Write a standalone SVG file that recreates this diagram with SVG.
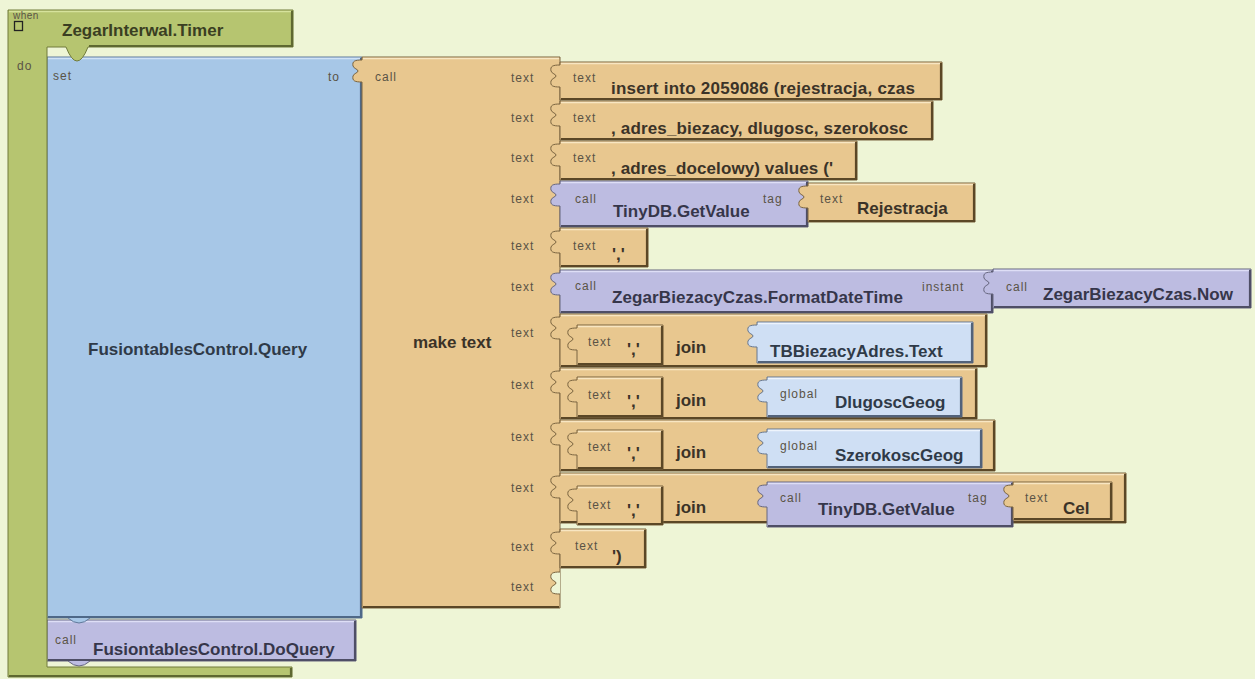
<svg xmlns="http://www.w3.org/2000/svg" width="1255" height="679" viewBox="0 0 1255 679">
<defs>
<style>
.tan{fill:#E8C78F;stroke:#7a6440;stroke-width:1;stroke-linejoin:round}
.pur{fill:#BDBCE1;stroke:#66667e;stroke-width:1;stroke-linejoin:round}
.lbl{fill:#CFDFF4;stroke:#66768e;stroke-width:1;stroke-linejoin:round}
.blu{fill:#A7C7E7;stroke:#60789a;stroke-width:1;stroke-linejoin:round}
.grn{fill:#B6C570;stroke:#707a3a;stroke-width:1;stroke-linejoin:round}
.hole{fill:#EEF5D6;stroke:#7a6440;stroke-width:1}
.st{fill:none;stroke:#5b4726;stroke-width:2.2}
.sp{fill:none;stroke:#4e4e66;stroke-width:2.2}
.sl{fill:none;stroke:#52627a;stroke-width:2.2}
.sb{fill:none;stroke:#4e6888;stroke-width:2.2}
.sg{fill:none;stroke:#5e6830;stroke-width:2.2}
.ht{fill:none;stroke:#f8e6c2;stroke-width:1.5}
.hp{fill:none;stroke:#dedef6;stroke-width:1.5}
.hl{fill:none;stroke:#eef4fc;stroke-width:1.5}
.hb{fill:none;stroke:#cfe2f6;stroke-width:1.5}
.hg{fill:none;stroke:#d6e29c;stroke-width:1.5}
.s{font-family:"Liberation Sans",Arial,sans-serif;font-size:12px;letter-spacing:1px;fill:#5a5346}
.b{font-family:"Liberation Sans",Arial,sans-serif;font-size:17px;font-weight:bold;fill:#3b3328}
.bp{fill:#36364a}
.bb{fill:#2f3a48}
.bg{fill:#3a3e22}
</style>
</defs>

<rect x="0" y="0" width="1255" height="679" fill="#EEF5D6"/>

<!-- statement: call FusiontablesControl.DoQuery -->
<g id="doquery">
<path class="pur" d="M47,620 H356 V661 H90 Q79,671 68,661 H47 Z"/>
<path class="sp" d="M48,660 H355 V621"/>
<path class="hp" d="M48,621.5 H354"/>
<text class="s" x="55" y="644">call</text>
<text class="b bp" x="93" y="655">FusiontablesControl.DoQuery</text>
</g>

<!-- statement: set FusiontablesControl.Query -->
<g id="set-query">
<path class="blu" d="M47,57 H362 V618 H90 Q79,628 68,618 H47 Z"/>
<path class="sb" d="M48,617 H361 V58"/>
<path class="hb" d="M48,58.5 H360"/>
<text class="s" x="53" y="80">set</text>
<text class="s" x="328" y="81">to</text>
<text class="b bb" x="88" y="355">FusiontablesControl.Query</text>
</g>

<!-- event: when ZegarInterwal.Timer -->
<g id="when-timer">
<path class="grn" d="M8,10 H293 V47 H88 Q77,75 66,47 H47 V667 H292 V677 H8 Z"/>
<path class="sg" d="M292,11 V46 H89 M9,676 H291 V668"/>
<path class="hg" d="M9,11.5 H291"/>
<text class="s" x="13" y="19" style="font-size:10px;letter-spacing:0.5px">when</text>
<rect x="14.5" y="21.5" width="8" height="9" fill="none" stroke="#222" stroke-width="1.3"/>
<text class="b bg" x="62" y="36">ZegarInterwal.Timer</text>
<text class="s" x="17" y="70">do</text>
</g>

<!-- call make text -->
<g id="make-text">
<path class="tan" d="M362,57 H560 V608 H362 V82 c-7,0 -10,-1 -9,-6 c1,-3 5,-3 5,-5 c0,-2 -4,-2 -5,-5 c-1,-5 2,-6 9,-6 Z"/>
<path class="st" d="M363,607 H559"/>
<path class="ht" d="M363,58.5 H559"/>
<path class="hole" d="M560,594 c-7,0 -10,-1 -9,-6 c1,-3 5,-3 5,-5 c0,-2 -4,-2 -5,-5 c-1,-5 2,-6 9,-6"/>
<text class="s" x="375" y="81">call</text>
<text class="b" x="413" y="348">make text</text>
<text class="s" x="511" y="82">text</text>
<text class="s" x="511" y="122">text</text>
<text class="s" x="511" y="162">text</text>
<text class="s" x="511" y="203">text</text>
<text class="s" x="511" y="250">text</text>
<text class="s" x="511" y="291">text</text>
<text class="s" x="511" y="337">text</text>
<text class="s" x="511" y="389">text</text>
<text class="s" x="511" y="441">text</text>
<text class="s" x="511" y="492">text</text>
<text class="s" x="511" y="551">text</text>
<text class="s" x="511" y="591">text</text>
</g>

<g id="text-insert">
<path class="tan" d="M560,62 H942 V100 H560 V87 c-7,0 -10,-1 -9,-6 c1,-3 5,-3 5,-5 c0,-2 -4,-2 -5,-5 c-1,-5 2,-6 9,-6 Z"/>
<path class="st" d="M561,99 H941 V63"/>
<path class="ht" d="M561,63.5 H940"/>
<text class="s" x="573" y="82">text</text>
<text class="b" x="611" y="94" textLength="304" lengthAdjust="spacing">insert into 2059086 (rejestracja, czas</text>
</g>

<g id="text-columns">
<path class="tan" d="M560,101 H933 V140 H560 V126 c-7,0 -10,-1 -9,-6 c1,-3 5,-3 5,-5 c0,-2 -4,-2 -5,-5 c-1,-5 2,-6 9,-6 Z"/>
<path class="st" d="M561,139 H932 V102"/>
<path class="ht" d="M561,102.5 H931"/>
<text class="s" x="573" y="122">text</text>
<text class="b" x="611" y="134" textLength="297" lengthAdjust="spacing">, adres_biezacy, dlugosc, szerokosc</text>
</g>

<g id="text-values">
<path class="tan" d="M560,141 H857 V180 H560 V166 c-7,0 -10,-1 -9,-6 c1,-3 5,-3 5,-5 c0,-2 -4,-2 -5,-5 c-1,-5 2,-6 9,-6 Z"/>
<path class="st" d="M561,179 H856 V142"/>
<path class="ht" d="M561,142.5 H855"/>
<text class="s" x="573" y="162">text</text>
<text class="b" x="611" y="174" textLength="222" lengthAdjust="spacing">, adres_docelowy) values ('</text>
</g>

<g id="tinydb-rejestracja">
<path class="pur" d="M560,181 H808 V227 H560 V206 c-7,0 -10,-1 -9,-6 c1,-3 5,-3 5,-5 c0,-2 -4,-2 -5,-5 c-1,-5 2,-6 9,-6 Z"/>
<path class="sp" d="M561,226 H807 V182"/>
<path class="hp" d="M561,182.5 H806"/>
<text class="s" x="575" y="203">call</text>
<text class="b bp" x="613" y="217">TinyDB.GetValue</text>
<text class="s" x="763" y="203">tag</text>
</g>

<g id="text-rejestracja">
<path class="tan" d="M808,183 H975 V222 H808 V208 c-7,0 -10,-1 -9,-6 c1,-3 5,-3 5,-5 c0,-2 -4,-2 -5,-5 c-1,-5 2,-6 9,-6 Z"/>
<path class="st" d="M809,221 H974 V184"/>
<path class="ht" d="M809,184.5 H973"/>
<text class="s" x="820" y="203">text</text>
<text class="b" x="857" y="214">Rejestracja</text>
</g>

<g id="text-sep1">
<path class="tan" d="M560,228 H648 V267 H560 V253 c-7,0 -10,-1 -9,-6 c1,-3 5,-3 5,-5 c0,-2 -4,-2 -5,-5 c-1,-5 2,-6 9,-6 Z"/>
<path class="st" d="M561,266 H647 V229"/>
<path class="ht" d="M561,229.5 H646"/>
<text class="s" x="573" y="250">text</text>
<text class="b" x="612" y="260">','</text>
</g>

<g id="format-datetime">
<path class="pur" d="M560,270 H993 V313 H560 V295 c-7,0 -10,-1 -9,-6 c1,-3 5,-3 5,-5 c0,-2 -4,-2 -5,-5 c-1,-5 2,-6 9,-6 Z"/>
<path class="sp" d="M561,312 H992 V271"/>
<path class="hp" d="M561,271.5 H991"/>
<text class="s" x="575" y="290">call</text>
<text class="b bp" x="612" y="303" textLength="291" lengthAdjust="spacing">ZegarBiezacyCzas.FormatDateTime</text>
<text class="s" x="922" y="291">instant</text>
</g>

<g id="clock-now">
<path class="pur" d="M993,269 H1251 V308 H993 V294 c-7,0 -10,-1 -9,-6 c1,-3 5,-3 5,-5 c0,-2 -4,-2 -5,-5 c-1,-5 2,-6 9,-6 Z"/>
<path class="sp" d="M994,307 H1250 V270"/>
<path class="hp" d="M994,270.5 H1249"/>
<text class="s" x="1006" y="291">call</text>
<text class="b bp" x="1043" y="300">ZegarBiezacyCzas.Now</text>
</g>

<!-- join ',' + TBBiezacyAdres.Text -->
<g id="join-adres">
<path class="tan" d="M560,314 H987 V367 H560 V339 c-7,0 -10,-1 -9,-6 c1,-3 5,-3 5,-5 c0,-2 -4,-2 -5,-5 c-1,-5 2,-6 9,-6 Z"/>
<path class="st" d="M561,366 H986 V315"/>
<path class="ht" d="M561,315.5 H985"/>
<path class="tan" d="M577,325 H663 V365 H577 V350 c-7,0 -10,-1 -9,-6 c1,-3 5,-3 5,-5 c0,-2 -4,-2 -5,-5 c-1,-5 2,-6 9,-6 Z"/>
<path class="st" d="M578,364 H662 V326"/>
<path class="ht" d="M578,326.5 H661"/>
<text class="s" x="588" y="346">text</text>
<text class="b" x="627" y="355">','</text>
<text class="b" x="676" y="353">join</text>
<path class="lbl" d="M757,322 H973 V363 H757 V347 c-7,0 -10,-1 -9,-6 c1,-3 5,-3 5,-5 c0,-2 -4,-2 -5,-5 c-1,-5 2,-6 9,-6 Z"/>
<path class="sl" d="M758,362 H972 V323"/>
<path class="hl" d="M758,323.5 H971"/>
<text class="b bb" x="770" y="357">TBBiezacyAdres.Text</text>
</g>

<!-- join ',' + global DlugoscGeog -->
<g id="join-dlugosc">
<path class="tan" d="M560,368 H977 V419 H560 V393 c-7,0 -10,-1 -9,-6 c1,-3 5,-3 5,-5 c0,-2 -4,-2 -5,-5 c-1,-5 2,-6 9,-6 Z"/>
<path class="st" d="M561,418 H976 V369"/>
<path class="ht" d="M561,369.5 H975"/>
<path class="tan" d="M577,377 H663 V417 H577 V402 c-7,0 -10,-1 -9,-6 c1,-3 5,-3 5,-5 c0,-2 -4,-2 -5,-5 c-1,-5 2,-6 9,-6 Z"/>
<path class="st" d="M578,416 H662 V378"/>
<path class="ht" d="M578,378.5 H661"/>
<text class="s" x="588" y="399">text</text>
<text class="b" x="627" y="407">','</text>
<text class="b" x="676" y="406">join</text>
<path class="lbl" d="M767,377 H962 V417 H767 V402 c-7,0 -10,-1 -9,-6 c1,-3 5,-3 5,-5 c0,-2 -4,-2 -5,-5 c-1,-5 2,-6 9,-6 Z"/>
<path class="sl" d="M768,416 H961 V378"/>
<path class="hl" d="M768,378.5 H960"/>
<text class="s" x="780" y="398">global</text>
<text class="b bb" x="835" y="408">DlugoscGeog</text>
</g>

<!-- join ',' + global SzerokoscGeog -->
<g id="join-szerokosc">
<path class="tan" d="M560,420 H995 V471 H560 V445 c-7,0 -10,-1 -9,-6 c1,-3 5,-3 5,-5 c0,-2 -4,-2 -5,-5 c-1,-5 2,-6 9,-6 Z"/>
<path class="st" d="M561,470 H994 V421"/>
<path class="ht" d="M561,421.5 H993"/>
<path class="tan" d="M577,430 H663 V469 H577 V455 c-7,0 -10,-1 -9,-6 c1,-3 5,-3 5,-5 c0,-2 -4,-2 -5,-5 c-1,-5 2,-6 9,-6 Z"/>
<path class="st" d="M578,468 H662 V431"/>
<path class="ht" d="M578,431.5 H661"/>
<text class="s" x="588" y="451">text</text>
<text class="b" x="627" y="459">','</text>
<text class="b" x="676" y="458">join</text>
<path class="lbl" d="M767,429 H982 V468 H767 V454 c-7,0 -10,-1 -9,-6 c1,-3 5,-3 5,-5 c0,-2 -4,-2 -5,-5 c-1,-5 2,-6 9,-6 Z"/>
<path class="sl" d="M768,467 H981 V430"/>
<path class="hl" d="M768,430.5 H980"/>
<text class="s" x="780" y="450">global</text>
<text class="b bb" x="835" y="461">SzerokoscGeog</text>
</g>

<!-- join ',' + TinyDB.GetValue(Cel) -->
<g id="join-cel">
<path class="tan" d="M560,473 H1126 V523 H560 V498 c-7,0 -10,-1 -9,-6 c1,-3 5,-3 5,-5 c0,-2 -4,-2 -5,-5 c-1,-5 2,-6 9,-6 Z"/>
<path class="st" d="M561,522 H1125 V474"/>
<path class="ht" d="M561,474.5 H1124"/>
<path class="tan" d="M577,486 H663 V525 H577 V511 c-7,0 -10,-1 -9,-6 c1,-3 5,-3 5,-5 c0,-2 -4,-2 -5,-5 c-1,-5 2,-6 9,-6 Z"/>
<path class="st" d="M578,524 H662 V487"/>
<path class="ht" d="M578,487.5 H661"/>
<text class="s" x="588" y="509">text</text>
<text class="b" x="627" y="516">','</text>
<text class="b" x="676" y="513">join</text>
<path class="pur" d="M767,482 H1013 V527 H767 V507 c-7,0 -10,-1 -9,-6 c1,-3 5,-3 5,-5 c0,-2 -4,-2 -5,-5 c-1,-5 2,-6 9,-6 Z"/>
<path class="sp" d="M768,526 H1012 V483"/>
<path class="hp" d="M768,483.5 H1011"/>
<text class="s" x="780" y="502">call</text>
<text class="b bp" x="818" y="515">TinyDB.GetValue</text>
<text class="s" x="968" y="502">tag</text>
<path class="tan" d="M1013,482 H1112 V520 H1013 V507 c-7,0 -10,-1 -9,-6 c1,-3 5,-3 5,-5 c0,-2 -4,-2 -5,-5 c-1,-5 2,-6 9,-6 Z"/>
<path class="st" d="M1014,519 H1111 V483"/>
<path class="ht" d="M1014,483.5 H1110"/>
<text class="s" x="1025" y="502">text</text>
<text class="b" x="1063" y="514">Cel</text>
</g>

<g id="text-close">
<path class="tan" d="M560,529 H646 V568 H560 V554 c-7,0 -10,-1 -9,-6 c1,-3 5,-3 5,-5 c0,-2 -4,-2 -5,-5 c-1,-5 2,-6 9,-6 Z"/>
<path class="st" d="M561,567 H645 V530"/>
<path class="ht" d="M561,530.5 H644"/>
<text class="s" x="575" y="550">text</text>
<text class="b" x="612" y="562">')</text>
</g>
</svg>
